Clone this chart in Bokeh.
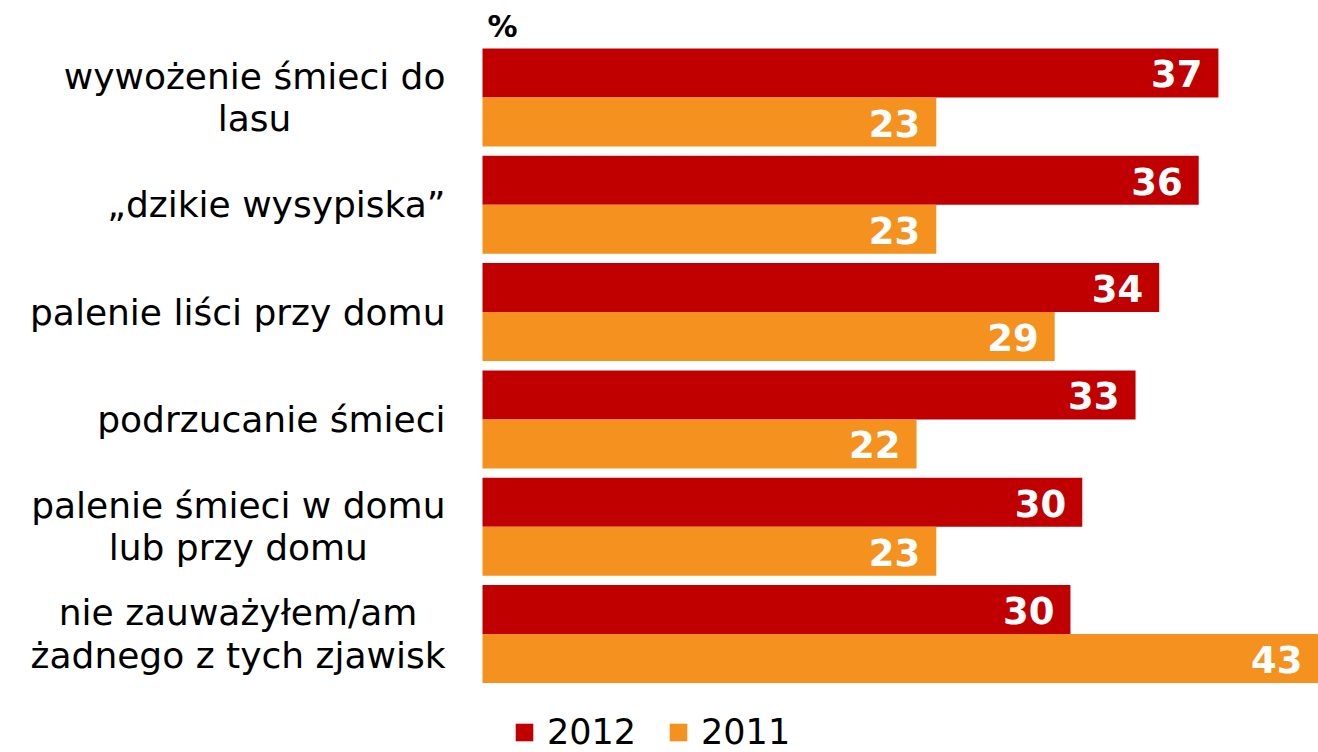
from bokeh.plotting import figure
from bokeh.models import Range1d, Legend, LegendItem, ColumnDataSource
from bokeh.core.properties import value
from bokeh.embed import file_html
from bokeh.resources import INLINE

categories = [
    "wywożenie śmieci do\nlasu",
    "„dzikie wysypiska”",
    "palenie liści przy domu",
    "podrzucanie śmieci",
    "palenie śmieci w domu\nlub przy domu",
    "nie zauważyłem/am\nżadnego z tych zjawisk",
]
v2012 = [37.3, 36.3, 34.3, 33.1, 30.4, 29.8]
v2011 = [23.0, 23.0, 29.0, 22.0, 23.0, 43.0]
lab2012 = ["37", "36", "34", "33", "30", "30"]
lab2011 = ["23", "23", "29", "22", "23", "43"]
series = ["2012", "2011"]
unit_label = "%"
colors = ["#C00000", "#F5921F"]

FONT = "DejaVu Sans"
W, H = 1318, 752
origin_px = 482          # screen x of value 0
px_per_val = 19.73
px_per_grp = 107.3
grp0_center_px = 97

x_start = -origin_px / px_per_val
x_end = (W - origin_px) / px_per_val
y_top = -grp0_center_px / px_per_grp
y_bot = (H - grp0_center_px) / px_per_grp

p = figure(width=W, height=H, output_backend="svg", toolbar_location=None,
           x_range=Range1d(x_start, x_end), y_range=Range1d(y_bot, y_top),
           min_border_left=0, min_border_right=0, min_border_top=0, min_border_bottom=0)
p.outline_line_color = None
p.xgrid.visible = False
p.ygrid.visible = False
p.xaxis.visible = False
p.yaxis.visible = False

n = len(categories)
idx = list(range(n))

# category labels (block anchored right, lines centred)
p.text(x=[0] * n, y=idx, text=categories, anchor="center_right", text_align="center",
       x_offset=-37, text_color="black", text_font=value(FONT), text_font_size="36px",
       text_line_height=1.03)

off = 0.2284
hgt = 0.4567
renderers = []
for k, (vals, labs) in enumerate([(v2012, lab2012), (v2011, lab2011)]):
    ys = [i + (-off if k == 0 else off) for i in idx]
    src = ColumnDataSource(dict(y=ys, v=vals, lx=[min(v, x_end) for v in vals], t=labs))
    r = p.hbar(y="y", left=0, right="v", height=hgt, source=src,
               fill_color=colors[k], line_color=None)
    renderers.append(r)
    p.text(x="lx", y="y", text="t", source=src, text_align="right", text_baseline="middle",
           x_offset=-16, y_offset=1, text_color="white", text_font=value(FONT),
           text_font_style="bold", text_font_size="37px")

p.text(x=[0], y=[y_top + 26 / px_per_grp], text=[unit_label], text_align="left",
       text_baseline="alphabetic", x_offset=5, text_color="black",
       text_font=value(FONT), text_font_style="bold", text_font_size="30px")

legend = Legend(items=[LegendItem(label=s, renderers=[r]) for s, r in zip(series, renderers)],
                orientation="horizontal", location=(origin_px + 31, 0),
                glyph_width=22, glyph_height=22, label_standoff=12, spacing=31,
                padding=0, margin=0, border_line_alpha=0, background_fill_alpha=0,
                label_text_font=FONT, label_text_font_size="35px", label_height=21,
                label_text_color="black")
p.add_layout(legend, "center")

open("out.html", "w").write(file_html(p, INLINE))
